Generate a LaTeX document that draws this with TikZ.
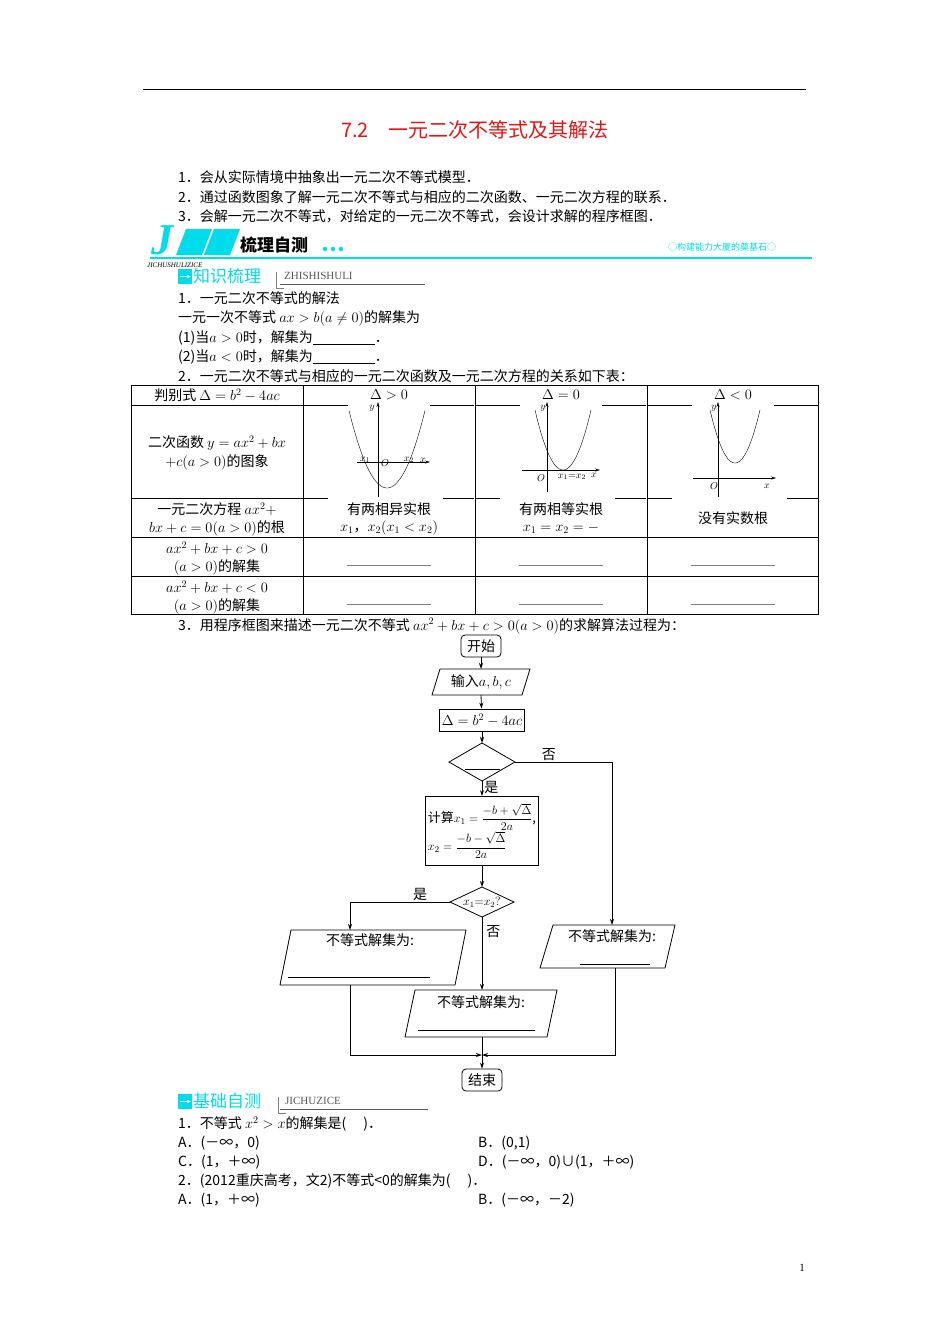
\documentclass[tikz,border=0pt]{standalone}
\usepackage{amsmath}
\usepackage{fontspec}
\setmainfont{Noto Sans CJK SC}
\newfontfamily\lat{Liberation Serif}
\usetikzlibrary{arrows.meta,shapes.geometric}
\definecolor{cy}{RGB}{0,220,235}
\definecolor{tr}{RGB}{230,20,20}
\tikzset{
 t/.style={anchor=west,inner sep=0,font=\fontsize{14}{16}\selectfont},
 tc/.style={inner sep=0,font=\fontsize{14}{16}\selectfont},
 sm/.style={inner sep=0,font=\fontsize{10}{11}\selectfont},
 fl/.style={draw,thick,inner sep=2pt,font=\fontsize{14}{16}\selectfont},
 ar/.style={thick,-{Stealth[length=6pt,width=4pt]}},
 ln/.style={thick},
}
\begin{document}
\begin{tikzpicture}[x=1pt,y=-1pt]
\useasboundingbox (0,0) rectangle (950,1344);
\draw[thick] (143,89) -- (806,89);
\node[tc,text=tr,font=\fontsize{20}{22}\selectfont] (title) at (475,130) {7.2\quad 一元二次不等式及其解法};
\node[t] (g1) at (178,177) {1．会从实际情境中抽象出一元二次不等式模型．};
\node[t] (g2) at (178,197) {2．通过函数图象了解一元二次不等式与相应的二次函数、一元二次方程的联系．};
\node[t] (g3) at (178,216) {3．会解一元二次不等式，对给定的一元二次不等式，会设计求解的程序框图．};
% banner
\node[inner sep=0,font=\fontsize{44}{44}\lat\itshape\bfseries,text=cy] (Jl) at (162,240) {J};
\fill[cy] (186,229) -- (212,229) -- (202,255) -- (176,255) -- cycle;
\fill[cy] (214,229) -- (240,229) -- (230,255) -- (204,255) -- cycle;
\node[t,font=\fontsize{17}{18}\selectfont\bfseries\itshape] (bt) at (240,245) {梳理自测};
\foreach \i in {0,1,2} \fill[cy] (325+\i*8,249) circle (2.2);
\node[t,text=cy,font=\fontsize{9}{10}\selectfont] (br) at (668,247) {○构建能力大厦的奠基石○};
\draw[cy,line width=1.6pt] (150,258) -- (812,258);
\node[t,font=\fontsize{7}{8}\lat\itshape] (bs) at (147,265) {JICHUSHULIZICE};
\fill[cy] (178,269) rectangle (192,284);
\draw[white,thick,-{Stealth[length=4pt]}] (180,276.5) -- (191,276.5);
\node[t,text=cy,font=\fontsize{17}{18}\selectfont] (zs) at (193,276) {知识梳理};
\draw[gray,thick] (276,272) -- (276,288) -- (284,288);
\node[t,text=gray!70!black,font=\fontsize{11}{12}\lat] (zse) at (284,276) {ZHISHISHULI};
\draw[gray!70!black] (280,284) -- (425,284);
\node[t] (s1) at (178,298) {1．一元二次不等式的解法};
\node[t] (s2) at (178,318) {一元一次不等式 $ax>b(a\neq0)$的解集为};
\node[t] (s3) at (178,338) {(1)当$a>0$时，解集为\underline{\hspace{62pt}}．};
\node[t] (s4) at (178,357) {(2)当$a<0$时，解集为\underline{\hspace{62pt}}．};
\node[t] (s5) at (178,376) {2．一元二次不等式与相应的一元二次函数及一元二次方程的关系如下表：};
% table
\draw (131,385) rectangle (818,614);
\foreach \x in {303,475,647} \draw (\x,385) -- (\x,614);
\draw (131,405) -- (303,405);
\foreach \x in {303,475,647} {\draw (\x,405) -- (\x+45,405); \draw (\x+127,405) -- (\x+171,405);
  \draw (\x,498) -- (\x+25,498); \draw (\x+140,498) -- (\x+171,498);}
\draw (131,498) -- (303,498);
\draw (131,537) -- (818,537);
\draw (131,576) -- (818,576);
\node[tc] (h1) at (217,395) {判别式 $\Delta=b^2-4ac$};
\node[tc] (h2) at (389,395) {$\Delta>0$};
\node[tc] (h3) at (561,395) {$\Delta=0$};
\node[tc] (h4) at (733,395) {$\Delta<0$};
\node[tc] (r2a) at (217,443) {二次函数 $y=ax^2+bx$};
\node[tc] (r2b) at (217,462) {$+c(a>0)$的图象};
\node[tc] (r3a) at (217,509) {一元二次方程 $ax^2+$};
\node[tc] (r3b) at (217,528) {$bx+c=0(a>0)$的根};
\node[tc] (r4a) at (217,548) {$ax^2+bx+c>0$};
\node[tc] (r4b) at (217,567) {$(a>0)$的解集};
\node[tc] (r5a) at (217,587) {$ax^2+bx+c<0$};
\node[tc] (r5b) at (217,606) {$(a>0)$的解集};
\node[tc] (c2a) at (389,509) {有两相异实根};
\node[tc] (c2b) at (389,528) {$x_1$，$x_2(x_1<x_2)$};
\node[tc] (c3a) at (561,509) {有两相等实根};
\node[tc] (c3b) at (561,528) {$x_1=x_2=-$};
\node[tc] (c4) at (733,518) {没有实数根};
\foreach \x in {389,561,733} {\draw[gray] (\x-42,565) -- (\x+42,565); \draw[gray] (\x-42,604) -- (\x+42,604);}
% graphs
\draw[-{Stealth[length=5pt,width=3pt]}] (378,497) -- (378,402);
\draw[-{Stealth[length=5pt,width=3pt]}] (357,462) -- (430,462);
\draw[domain=349:425,samples=40] plot (\x,{488-0.0537*(\x-387)^2});
\node[sm] at (372,408) {$y$}; \node[sm] at (365,460) {$x_1$}; \node[sm] at (385,463) {$O$};
\node[sm] at (409,460) {$x_2$}; \node[sm] at (423,460) {$x$};
\draw[-{Stealth[length=5pt,width=3pt]}] (547,492) -- (547,402);
\draw[-{Stealth[length=5pt,width=3pt]}] (522,470) -- (600,470);
\draw[domain=535:591,samples=40] plot (\x,{470-0.0765*(\x-563)^2});
\node[sm] at (543,408) {$y$}; \node[sm] at (541,478) {$O$}; \node[sm] at (572,477) {$x_1{=}x_2$}; \node[sm] at (594,475) {$x$};
\draw[-{Stealth[length=5pt,width=3pt]}] (718,497) -- (718,402);
\draw[-{Stealth[length=5pt,width=3pt]}] (693,478) -- (776,478);
\draw[domain=710:760,samples=40] plot (\x,{463-0.085*(\x-735)^2});
\node[sm] at (714,408) {$y$}; \node[sm] at (714,486) {$O$}; \node[sm] at (767,486) {$x$};
\node[t] (s6) at (178,626) {3．用程序框图来描述一元二次不等式 $ax^2+bx+c>0(a>0)$的求解算法过程为：};
% flowchart
\node[fl,rounded corners=4pt,minimum width=40,minimum height=22] (start) at (481,646) {开始};
\draw[thick] (440,669) -- (530,669) -- (522,695) -- (432,695) -- cycle;
\node[tc] (in) at (481,682) {输入$a,b,c$};
\coordinate (inT) at (481,669); \coordinate (inB) at (481,695);
\node[fl,minimum width=73,minimum height=22] (del) at (482,720) {$\Delta=b^2-4ac$};
\draw[thick] (449,762) -- (482,743) -- (515,762) -- (482,781) -- cycle;
\draw[ln] (465,769) -- (500,769);
\coordinate (d1T) at (482,743); \coordinate (d1B) at (482,781); \coordinate (d1E) at (515,762);
\node[fl,minimum width=110,minimum height=69,align=left,font=\fontsize{13}{15}\selectfont] (comp) at (482,831) {计算$x_1=\dfrac{-b+\sqrt{\Delta}}{2a}$,\\$x_2=\dfrac{-b-\sqrt{\Delta}}{2a}$};
\draw[thick] (450,902) -- (482,887) -- (514,902) -- (482,917) -- cycle;
\node[tc,font=\fontsize{12}{13}\selectfont] (d2) at (482,902) {$x_1{=}x_2?$};
\coordinate (d2T) at (482,887); \coordinate (d2B) at (482,917); \coordinate (d2W) at (450,902);
\draw[thick] (291,930) -- (466,930) -- (455,985) -- (280,985) -- cycle;
\node[tc] (pl) at (370,940) {不等式解集为:}; \draw (288,977) -- (430,977);
\draw[thick] (553,925) -- (675,925) -- (665,968) -- (540,968) -- cycle;
\node[tc] (pr) at (612,936) {不等式解集为:}; \draw (580,964) -- (650,964);
\draw[thick] (415,990) -- (557,990) -- (547,1037) -- (405,1037) -- cycle;
\node[tc] (pm) at (481,1002) {不等式解集为:}; \draw (418,1030) -- (535,1030);
\coordinate (pmT) at (482,990); \coordinate (pmB) at (482,1037);
\node[fl,rounded corners=4pt,minimum width=40,minimum height=22] (end) at (482,1080) {结束};
\coordinate (m) at (482,1055);
\draw[ar] (start) -- (inT);
\draw[ar] (inB) -- (del);
\draw[ar] (del) -- (d1T);
\draw[ar] (d1B) -- (comp) node[pos=0.4,right,tc,xshift=2pt] {是};
\draw[ar] (comp) -- (d2T);
\draw[ar] (d1E) -- (612,762) node[pos=0.35,above,tc,yshift=1pt] {否} -- (612,925);
\draw[ar] (d2W) -- (350,902) node[pos=0.3,above,tc,yshift=1pt] {是} -- (350,930);
\draw[ar] (d2B) -- (pmT) node[pos=0.2,right,tc,xshift=4pt] {否};
\draw[ar] (350,985) -- (350,1055) -- (m);
\draw[ar] (615,968) -- (615,1055) -- (m);
\draw[ar] (pmB) -- (end);
% bottom
\fill[cy] (178,1094) rectangle (192,1109);
\draw[white,thick,-{Stealth[length=4pt]}] (180,1101.5) -- (191,1101.5);
\node[t,text=cy,font=\fontsize{17}{18}\selectfont] (jc) at (193,1101) {基础自测};
\draw[gray,thick] (278,1097) -- (278,1113) -- (286,1113);
\node[t,text=gray!70!black,font=\fontsize{11}{12}\lat] (jce) at (285,1101) {JICHUZICE};
\draw[gray!70!black] (280,1109) -- (428,1109);
\node[t] (q1) at (178,1124) {1．不等式 $x^2>x$的解集是(\quad\ )．};
\node[t] (a1) at (178,1143) {A．(－∞，0)};
\node[t] (b1) at (478,1143) {B．(0,1)};
\node[t] (c1) at (178,1162) {C．(1，＋∞)};
\node[t] (d1t) at (478,1162) {D．(－∞，0)∪(1，＋∞)};
\node[t] (q2) at (178,1181) {2．(2012重庆高考，文2)不等式<0的解集为(\quad\ )．};
\node[t] (a2) at (178,1200) {A．(1，＋∞)};
\node[t] (b2) at (478,1200) {B．(－∞，－2)};
\node[tc,font=\fontsize{11}{12}\lat] (pg) at (802,1268) {1};
\end{tikzpicture}
\end{document}
